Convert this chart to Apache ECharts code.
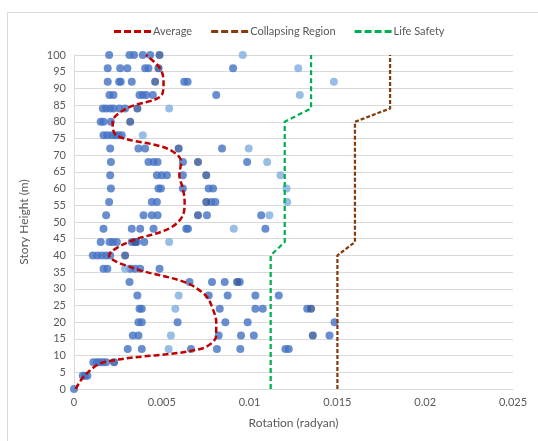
<!DOCTYPE html>
<html>
<head>
<meta charset="utf-8">
<script src="https://cdn.jsdelivr.net/npm/echarts@6/dist/echarts.min.js"></script>
<style>
  html, body { margin: 0; padding: 0; background: #ffffff; }
  #chart { width: 538px; height: 441px; }
</style>
</head>
<body>
<div id="chart"></div>
<script>
// Story levels (m)
const heights = [0, 4, 8, 12, 16, 20, 24, 28, 32, 36, 40, 44, 48, 52, 56, 60, 64, 68, 72, 76, 80, 84, 88, 92, 96, 100];

// Mean rotation per story
const averageRotation = [0.0001, 0.0006, 0.0017, 0.0072, 0.0081, 0.0081, 0.0079, 0.0075, 0.0063, 0.0035,
  0.0020, 0.0031, 0.0054, 0.0062, 0.0063, 0.0062, 0.0060, 0.0061, 0.0053, 0.0024,
  0.0022, 0.0030, 0.0050, 0.0051, 0.0049, 0.0041];

// Performance limits per story
const collapseLimit = [0.015, 0.015, 0.015, 0.015, 0.015, 0.015, 0.015, 0.015, 0.015, 0.015, 0.015,
  0.016, 0.016, 0.016, 0.016, 0.016, 0.016, 0.016, 0.016, 0.016, 0.016,
  0.018, 0.018, 0.018, 0.018, 0.018];
const lifeSafetyLimit = [0.0112, 0.0112, 0.0112, 0.0112, 0.0112, 0.0112, 0.0112, 0.0112, 0.0112, 0.0112, 0.0112,
  0.012, 0.012, 0.012, 0.012, 0.012, 0.012, 0.012, 0.012, 0.012, 0.012,
  0.0135, 0.0135, 0.0135, 0.0135, 0.0135];

// Individual record rotations per story, grouped by marker shade (index matches heights)
const rotMid = [
  [0],
  [0.0005, 0.00063, 0.00076],
  [0.0011, 0.0013, 0.00145, 0.00164, 0.00183],
  [0.00306, 0.00386, 0.00666, 0.00814, 0.00947, 0.01204, 0.01223],
  [0.00335, 0.00367, 0.00824, 0.00951, 0.01024, 0.01455],
  [0.00367, 0.00386, 0.0059, 0.00862, 0.00989, 0.01484],
  [0.00373, 0.00386, 0.0083, 0.01033, 0.01075, 0.01328],
  [0.00361, 0.00767, 0.00875, 0.01033, 0.01166],
  [0.00316, 0.00658, 0.00786, 0.00858, 0.00944],
  [0.00168, 0.0019, 0.0032, 0.00348, 0.00377, 0.00487],
  [0.00107, 0.00133, 0.00158, 0.00183, 0.00206],
  [0.00152, 0.00202, 0.00221, 0.00244, 0.00329, 0.00358, 0.004],
  [0.00168, 0.00329, 0.00377, 0.00453, 0.00639, 0.00649, 0.0109],
  [0.00183, 0.00396, 0.00443, 0.00476, 0.00757, 0.01066],
  [0.002, 0.00443, 0.00472, 0.00782, 0.00805],
  [0.0021, 0.00481, 0.00495, 0.0062, 0.00767, 0.00792],
  [0.00206, 0.00472, 0.005, 0.00529, 0.0062],
  [0.0021, 0.00424, 0.00453, 0.00476, 0.0062, 0.00986],
  [0.00206, 0.00367, 0.00405, 0.00843],
  [0.00168, 0.0019, 0.00215, 0.00234, 0.00253, 0.00272],
  [0.00152, 0.00168, 0.0021],
  [0.00164, 0.00183, 0.00206, 0.00225, 0.00259, 0.00291],
  [0.00202, 0.00225, 0.00373, 0.00392, 0.00411, 0.00449, 0.0081],
  [0.00192, 0.00257, 0.00266, 0.00329, 0.00628, 0.00647],
  [0.00192, 0.00263, 0.00304, 0.00405, 0.00424, 0.00906],
  [0.002, 0.00316, 0.00342, 0.00392, 0.00434]
];
const rotDark = [
  [], [], [0.00228], [], [0.0136], [], [0.0135], [], [0.00929], [],
  [0.00291], [0.00348], [], [0.00706], [0.00753], [], [0.00753], [0.00706], [0.00596], [],
  [0.0032], [0.00361], [], [0.00462], [0.00481], [0.00487]
];
const rotLight = [
  [], [], [], [0.00539], [0.00552], [], [0.00577], [0.00596], [], [0.00291],
  [], [0.00542], [0.0091], [0.01113], [0.01214], [0.0121], [0.01176], [0.011], [0.00995], [0.00392],
  [], [0.00542], [0.01286], [0.0148], [0.01277], [0.00961]
];

// Axis ticks
const xTicks = { min: 0, max: 0.025, step: 0.005 };
const yTicks = { min: 0, max: 100, step: 5 };

const FONT = 'Lato';
const TEXT = '#595959';
const GRID = '#d9d9d9';
// Dashed-line swatch for the legend (four dashes, 37 x 3)
const DASH_ICON = 'path://M0,0h7v3h-7z M10,0h7v3h-7z M20,0h7v3h-7z M30,0h7v3h-7z';

function toPoints(groups) {
  const pts = [];
  groups.forEach((vals, i) => vals.forEach(v => pts.push([v, heights[i]])));
  return pts;
}
function toLine(vals) {
  return vals.map((v, i) => [v, heights[i]]);
}

const scatterBase = { type: 'scatter', symbolSize: 8, z: 2, silent: true };

const chart = echarts.init(document.getElementById('chart'), null, { renderer: 'canvas' });
chart.setOption({
  animation: false,
  backgroundColor: '#ffffff',
  graphic: [{
    type: 'rect', silent: true, z: -10,
    shape: { x: 7.5, y: 12.5, width: 600, height: 500 },
    style: { fill: 'none', stroke: GRID, lineWidth: 1 }
  }],
  legend: {
    data: [
      { name: 'Average', icon: DASH_ICON },
      { name: 'Collapsing Region', icon: DASH_ICON },
      { name: 'Life Safety', icon: DASH_ICON }
    ],
    top: 21, left: 109,
    itemWidth: 37, itemHeight: 3, itemGap: 19,
    textStyle: { fontFamily: FONT, fontSize: 11, color: TEXT, padding: [0, 0, 0, -3] }
  },
  grid: { left: 74, top: 55, width: 439, height: 334 },
  xAxis: {
    type: 'value', min: xTicks.min, max: xTicks.max, interval: xTicks.step,
    name: 'Rotation (radyan)', nameLocation: 'middle', nameGap: 28,
    nameTextStyle: { fontFamily: FONT, fontSize: 12, color: TEXT },
    axisLine: { show: true, lineStyle: { color: GRID, width: 1 } },
    axisTick: { show: false },
    splitLine: { show: false },
    axisLabel: { fontFamily: FONT, fontSize: 11, color: TEXT, margin: 8 }
  },
  yAxis: {
    type: 'value', min: yTicks.min, max: yTicks.max, interval: yTicks.step,
    name: 'Story Height (m)', nameLocation: 'middle', nameGap: 44,
    nameTextStyle: { fontFamily: FONT, fontSize: 12, color: TEXT },
    axisLine: { show: true, lineStyle: { color: GRID, width: 1 } },
    axisTick: { show: false },
    splitLine: { show: true, lineStyle: { color: GRID, width: 1 } },
    axisLabel: { fontFamily: FONT, fontSize: 11, color: TEXT, margin: 8 }
  },
  series: [
    Object.assign({ name: 'rotMid', data: toPoints(rotMid), itemStyle: { color: '#4472C4' } }, scatterBase),
    Object.assign({ name: 'rotDark', data: toPoints(rotDark), itemStyle: { color: '#2F5597' } }, scatterBase),
    Object.assign({ name: 'rotLight', data: toPoints(rotLight), itemStyle: { color: '#7FAEE0' } }, scatterBase),
    {
      name: 'Average', type: 'line', data: toLine(averageRotation), smooth: 0.35,
      symbol: 'none', z: 5, silent: true,
      lineStyle: { color: '#C00000', width: 2.5, type: [6, 3] },
      itemStyle: { color: '#C00000' }
    },
    {
      name: 'Collapsing Region', type: 'line', data: toLine(collapseLimit),
      symbol: 'none', z: 5, silent: true,
      lineStyle: { color: '#843C0C', width: 2.25, type: [4, 2] },
      itemStyle: { color: '#843C0C' }
    },
    {
      name: 'Life Safety', type: 'line', data: toLine(lifeSafetyLimit),
      symbol: 'none', z: 5, silent: true,
      lineStyle: { color: '#00B050', width: 2.25, type: [5, 3] },
      itemStyle: { color: '#00B050' }
    }
  ]
});
</script>
</body>
</html>
